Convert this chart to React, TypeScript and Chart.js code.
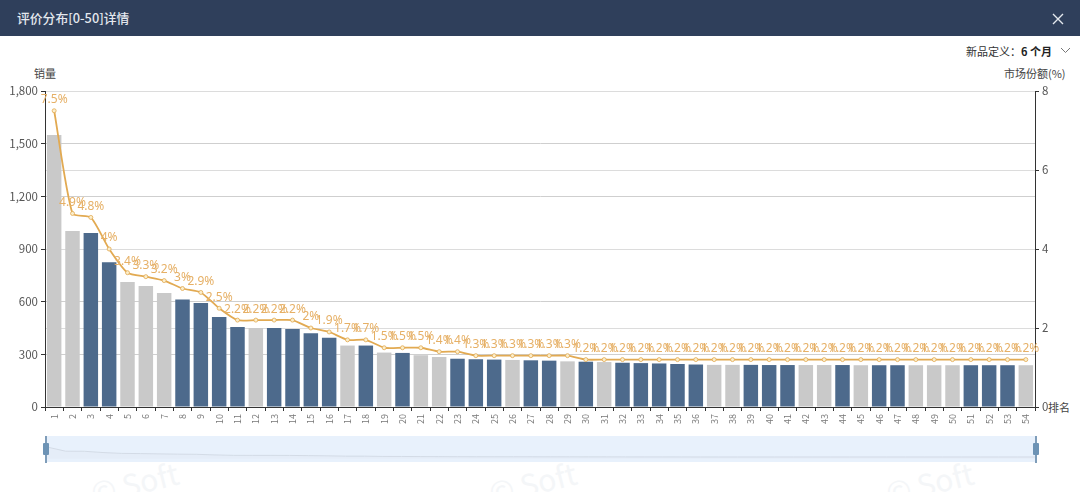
import React, { useEffect, useRef } from "react";
import Chart from "chart.js/auto";

const ranks = Array.from({ length: 54 }, (_, i) => String(i + 1));
const sales = [
  1550, 1002, 991, 824, 712, 689, 649, 613, 592, 513, 455, 450, 450, 445, 420, 395, 350, 350,
  310, 308, 295, 285, 275, 272, 270, 268, 266, 264, 260, 258, 256, 252, 250, 248, 245, 242,
  240, 240, 240, 239, 239, 239, 239, 239, 238, 238, 238, 238, 238, 238, 238, 238, 238, 238,
];
const share = [
  7.5, 4.9, 4.8, 4, 3.4, 3.3, 3.2, 3, 2.9, 2.5, 2.2, 2.2, 2.2, 2.2, 2, 1.9, 1.7, 1.7,
  1.5, 1.5, 1.5, 1.4, 1.4, 1.3, 1.3, 1.3, 1.3, 1.3, 1.3, 1.2, 1.2, 1.2, 1.2, 1.2, 1.2, 1.2,
  1.2, 1.2, 1.2, 1.2, 1.2, 1.2, 1.2, 1.2, 1.2, 1.2, 1.2, 1.2, 1.2, 1.2, 1.2, 1.2, 1.2, 1.2,
];
const grayRanks = [1, 2, 5, 6, 7, 12, 17, 19, 21, 22, 26, 29, 31, 37, 38, 42, 43, 45, 48, 49, 50, 54];

const BLUE = "#4d6a8c";
const GRAY = "#c9c9c9";
const ORANGE = "#e2aa52";
const FONT = '"Noto Sans CJK SC", "Noto Sans", sans-serif';

const shareLabels = {
  id: "shareLabels",
  afterDatasetsDraw(chart: Chart) {
    const { ctx } = chart;
    const points = chart.getDatasetMeta(1).data;
    ctx.save();
    ctx.font = '12px "Noto Sans", sans-serif';
    ctx.fillStyle = "#e6b066";
    ctx.textAlign = "center";
    ctx.textBaseline = "middle";
    points.forEach((p, i) => ctx.fillText(share[i] + "%", p.x, p.y - 11));
    ctx.restore();
  },
};

const txt = (left: number, top: number, s: string, extra: React.CSSProperties = {}) => (
  <div style={{ position: "absolute", left, top, fontSize: 11, lineHeight: "14px", color: "#444", whiteSpace: "nowrap", ...extra }}>{s}</div>
);

const handle = (left: number) => (
  <div style={{ position: "absolute", left, top: 436, width: 6, height: 27 }}>
    <div style={{ position: "absolute", left: 2, top: 0, width: 2, height: 27, background: "#7f9db9" }} />
    <div style={{ position: "absolute", left: 0, top: 7, width: 6, height: 12, background: "#6d93b5", borderRadius: 1 }} />
  </div>
);

const watermark = (left: number) => (
  <div style={{ position: "absolute", left, top: 462, fontSize: 30, lineHeight: "40px", color: "#f4f6f8", transform: "rotate(-14deg)", whiteSpace: "nowrap" }}>© Soft</div>
);

export default function App() {
  const mainRef = useRef<HTMLCanvasElement | null>(null);
  const miniRef = useRef<HTMLCanvasElement | null>(null);

  useEffect(() => {
    document.body.style.margin = "0";
    if (!mainRef.current || !miniRef.current) return;

    const main = new Chart(mainRef.current, {
      type: "bar",
      data: {
        labels: ranks,
        datasets: [
          {
            type: "bar",
            data: sales,
            yAxisID: "y",
            order: 2,
            categoryPercentage: 1,
            barPercentage: 0.79,
            backgroundColor: ranks.map((_, i) => (grayRanks.includes(i + 1) ? GRAY : BLUE)),
          },
          {
            type: "line",
            data: share,
            yAxisID: "y2",
            order: 1,
            borderColor: ORANGE,
            borderWidth: 1.8,
            tension: 0.2,
            pointRadius: 2,
            pointBackgroundColor: "#fbeecb",
            pointBorderColor: ORANGE,
            pointBorderWidth: 0.8,
          },
        ],
      },
      options: {
        animation: false,
        responsive: false,
        devicePixelRatio: 1,
        layout: { padding: { top: 91, left: 0, right: 0, bottom: 0 } },
        plugins: { legend: { display: false }, tooltip: { enabled: false } },
        scales: {
          x: {
            afterFit: (s: any) => { s.height = 85; },
            grid: { offset: true, drawOnChartArea: false, tickLength: 4, tickColor: "#333" },
            border: { color: "#333" },
            ticks: { minRotation: 90, maxRotation: 90, autoSkip: false, color: "#777", padding: 3, font: { size: 9, family: FONT } },
          },
          y: {
            position: "left",
            min: 0,
            max: 1800,
            afterFit: (s: any) => { s.width = 45; },
            grid: { color: "#cfcfcf", tickLength: 4, tickColor: "#333" },
            border: { color: "#333" },
            ticks: { stepSize: 300, color: "#555", padding: 3, font: { size: 11.5, family: FONT }, callback: (v: any) => Number(v).toLocaleString("en-US") },
          },
          y2: {
            position: "right",
            min: 0,
            max: 8,
            afterFit: (s: any) => { s.width = 45; },
            grid: { color: "#dcdcdc", tickLength: 4, tickColor: "#333" },
            border: { color: "#333" },
            ticks: { stepSize: 2, color: "#555", padding: 3, font: { size: 11.5, family: FONT } },
          },
        },
      },
      plugins: [shareLabels],
    });

    const mini = new Chart(miniRef.current, {
      type: "line",
      data: {
        labels: ranks,
        datasets: [{ data: sales, borderColor: "#d3dbe6", borderWidth: 1, pointRadius: 0, fill: true, backgroundColor: "#e5edf8" }],
      },
      options: {
        animation: false,
        responsive: false,
        devicePixelRatio: 1,
        layout: { padding: 0 },
        plugins: { legend: { display: false }, tooltip: { enabled: false } },
        scales: {
          x: { display: false },
          y: { display: false, min: -420, max: 3000 },
        },
      },
    });

    return () => {
      main.destroy();
      mini.destroy();
    };
  }, []);

  return (
    <div style={{ position: "relative", width: 1080, height: 492, overflow: "hidden", background: "#fff", fontFamily: FONT }}>
      {watermark(90)}
      {watermark(488)}
      {watermark(885)}
      <div style={{ position: "absolute", left: 0, top: 0, width: 1080, height: 36, background: "#2f3f5b" }} />
      {txt(17, 11, "评价分布[0-50]详情", { color: "#e4e8ee", fontSize: 12.8, fontWeight: 500 })}
      <svg style={{ position: "absolute", left: 1052, top: 13 }} width="12" height="12">
        <path d="M1 1 L11 11 M11 1 L1 11" stroke="#e4e8ee" strokeWidth="1.4" fill="none" />
      </svg>
      {txt(966, 44, "新品定义：", { color: "#333" })}
      {txt(1021, 44, "6 个月", { color: "#222", fontWeight: 700 })}
      <svg style={{ position: "absolute", left: 1060, top: 47 }} width="11" height="7">
        <path d="M1 1 L5.5 5.5 L10 1" stroke="#777" strokeWidth="1" fill="none" />
      </svg>
      {txt(34, 66, "销量")}
      {txt(1004, 66, "市场份额(%)")}
      {txt(1048, 400, "排名")}
      <canvas ref={mainRef} width={1080} height={492} style={{ position: "absolute", left: 0, top: 0, width: 1080, height: 492 }} />
      <div style={{ position: "absolute", left: 47, top: 436, width: 989, height: 26, background: "#e8f1fc" }}>
        <canvas ref={miniRef} width={989} height={26} style={{ width: 989, height: 26, display: "block" }} />
      </div>
      {handle(43)}
      {handle(1033)}
    </div>
  );
}
